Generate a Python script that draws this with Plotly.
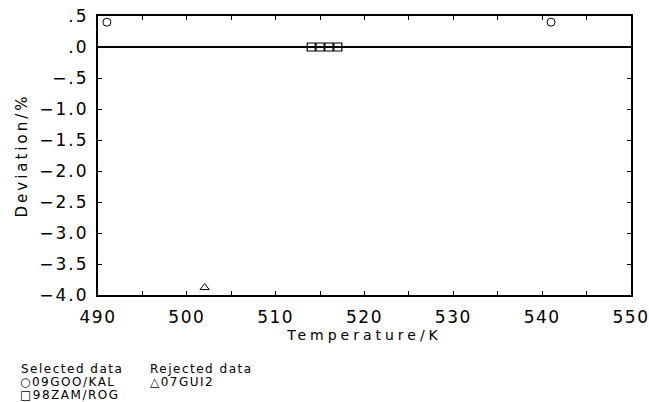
import plotly.graph_objects as go

sel_circle_x = [491, 541]
sel_circle_y = [0.4, 0.4]
sel_square_x = [514, 515, 516, 517]
sel_square_y = [0.0, 0.0, 0.0, 0.0]
rej_tri_x = [502]
rej_tri_y = [-3.88]

y_tickvals = [0.5, 0.0, -0.5, -1.0, -1.5, -2.0, -2.5, -3.0, -3.5, -4.0]
y_ticklabels = [".5", ".0", "\u2212.5", "\u22121.0", "\u22121.5", "\u22122.0", "\u22122.5", "\u22123.0", "\u22123.5", "\u22124.0"]
x_tickvals = [490, 500, 510, 520, 530, 540, 550]
x_ticklabels = ["490", "500", "510", "520", "530", "540", "550"]


def sp(t, s):
    return '<span style="letter-spacing:%spx">%s</span>' % (s, t)


fig = go.Figure()
fig.add_trace(go.Scatter(x=sel_circle_x, y=sel_circle_y, mode="markers",
                         marker=dict(symbol="circle-open", size=8, color="black", line=dict(width=1)), cliponaxis=False))
fig.add_trace(go.Scatter(x=sel_square_x, y=sel_square_y, mode="markers",
                         marker=dict(symbol="square-open", size=8, color="black", line=dict(width=1.2)), cliponaxis=False))
fig.add_trace(go.Scatter(x=rej_tri_x, y=rej_tri_y, mode="markers",
                         marker=dict(symbol="triangle-up-open", size=8, color="black", line=dict(width=1)), cliponaxis=False))

font = "DejaVu Sans, sans-serif"
fig.update_layout(
    width=649, height=402,
    margin=dict(l=98, r=18, t=16, b=107),
    plot_bgcolor="white", paper_bgcolor="white",
    showlegend=False,
    font=dict(family=font, color="black"),
    xaxis=dict(range=[490, 550], tickvals=x_tickvals, ticktext=[sp(t, 1.5) for t in x_ticklabels],
               ticks="inside", ticklen=4, ticklabeloverflow="allow",
               minor=dict(dtick=5, ticks="inside", ticklen=4, tickcolor="black"),
               showgrid=False, zeroline=False, showline=True, linecolor="black", linewidth=2,
               mirror="ticks", tickfont=dict(size=17), tickcolor="black", ticklabelstandoff=6,
               automargin=False,
               title=dict(text=sp("Temperature/K", 4), font=dict(size=14), standoff=3)),
    yaxis=dict(range=[-4.0, 0.5], tickvals=y_tickvals, ticktext=[sp(t, 2) for t in y_ticklabels],
               ticks="inside", ticklen=4, ticklabeloverflow="allow",
               showgrid=False, zeroline=True, zerolinecolor="black", zerolinewidth=1.5,
               showline=True, linecolor="black", linewidth=2, mirror="ticks",
               tickfont=dict(size=17), tickcolor="black", ticklabelstandoff=4,
               automargin=False,
               title=dict(text=sp("Deviation/%", 3), font=dict(size=15), standoff=8)),
)

legend_lines = [
    (19, 369, "Selected data"), (148, 369, "Rejected data"),
    (18, 382, "\u25cb09GOO/KAL"), (148, 382, "\u25b307GUI2"),
    (18, 395, "\u25a198ZAM/ROG"),
]
for px, py, t in legend_lines:
    fig.add_annotation(text=sp(t, 1.5), xref="paper", yref="paper",
                       x=(px - 98) / 533, y=(295 - py) / 279,
                       xanchor="left", yanchor="middle", showarrow=False,
                       font=dict(size=12, family=font))

fig.write_html("out.html")
